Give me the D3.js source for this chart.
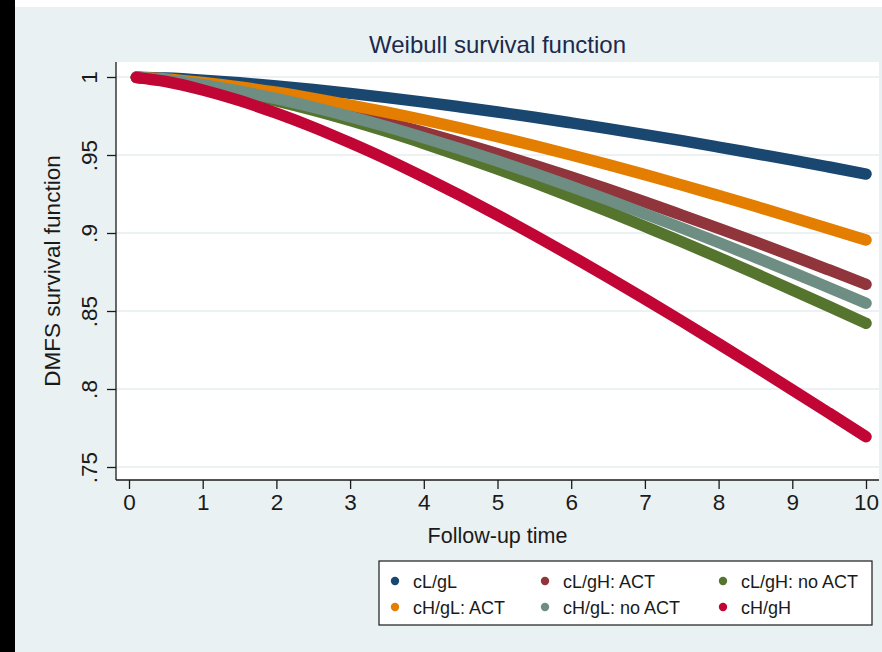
<!DOCTYPE html>
<html>
<head>
<meta charset="utf-8">
<script src="https://cdn.jsdelivr.net/npm/d3@7"></script>
<style>
  html, body { margin: 0; padding: 0; background: #ffffff; }
  svg { display: block; }
  text { font-family: "Liberation Sans", Arial, Helvetica, sans-serif; }
</style>
</head>
<body>
<svg id="chart" width="882" height="652"></svg>
<script>
// ---- data ----
const times = [0.1, 0.5, 1, 1.5, 2, 2.5, 3, 3.5, 4, 4.5, 5, 5.5, 6, 6.5, 7, 7.5, 8, 8.5, 9, 9.5, 10];
const seriesNames = ["cL/gL", "cL/gH: ACT", "cL/gH: no ACT", "cH/gL: ACT", "cH/gL: no ACT", "cH/gH"];
const cLgL       = [0.9999, 0.9993, 0.9980, 0.9963, 0.9943, 0.9920, 0.9895, 0.9868, 0.9839, 0.9808, 0.9776, 0.9742, 0.9706, 0.9669, 0.9631, 0.9592, 0.9551, 0.9509, 0.9467, 0.9423, 0.9378];
const cLgH_ACT   = [0.9999, 0.9984, 0.9955, 0.9918, 0.9873, 0.9823, 0.9768, 0.9709, 0.9646, 0.9579, 0.9508, 0.9435, 0.9359, 0.9280, 0.9199, 0.9115, 0.9030, 0.8943, 0.8854, 0.8763, 0.8671];
const cLgH_noACT = [0.9998, 0.9981, 0.9946, 0.9901, 0.9847, 0.9787, 0.9721, 0.9650, 0.9574, 0.9494, 0.9410, 0.9323, 0.9232, 0.9139, 0.9042, 0.8944, 0.8843, 0.8740, 0.8635, 0.8529, 0.8421];
const cHgL_ACT   = [0.9999, 0.9988, 0.9965, 0.9936, 0.9902, 0.9863, 0.9820, 0.9774, 0.9725, 0.9672, 0.9617, 0.9560, 0.9500, 0.9438, 0.9374, 0.9308, 0.9240, 0.9171, 0.9100, 0.9028, 0.8955];
const cHgL_noACT = [0.9998, 0.9982, 0.9951, 0.9909, 0.9861, 0.9806, 0.9746, 0.9681, 0.9611, 0.9538, 0.9461, 0.9381, 0.9298, 0.9212, 0.9123, 0.9032, 0.8939, 0.8844, 0.8748, 0.8649, 0.8550];
const cHgH       = [0.9997, 0.9971, 0.9917, 0.9849, 0.9768, 0.9678, 0.9578, 0.9472, 0.9358, 0.9239, 0.9115, 0.8986, 0.8853, 0.8717, 0.8577, 0.8435, 0.8290, 0.8143, 0.7995, 0.7845, 0.7694];
const seriesValues = [cLgL, cLgH_ACT, cLgH_noACT, cHgL_ACT, cHgL_noACT, cHgH];
const seriesColors = ["#1a476f", "#90353b", "#55752f", "#e37e00", "#6e8e84", "#c10534"];
const xTicks = [0, 1, 2, 3, 4, 5, 6, 7, 8, 9, 10];
const yTicks = [0.75, 0.8, 0.85, 0.9, 0.95, 1];
const yTickLabels = [".75", ".8", ".85", ".9", ".95", "1"];
const titleText = "Weibull survival function";
const xTitle = "Follow-up time";
const yTitle = "DMFS survival function";

// ---- layout ----
const svg = d3.select("#chart");
const W = 882, H = 652;
const plot = { left: 116, right: 879, top: 62, bottom: 480 };

// outer decorations
svg.append("rect").attr("x", 0).attr("y", 0).attr("width", W).attr("height", H).attr("fill", "#ffffff");
svg.append("rect").attr("x", 15).attr("y", 7).attr("width", W - 15).attr("height", H - 7).attr("fill", "#eaf1f3");
svg.append("rect").attr("x", 0).attr("y", 0).attr("width", 15).attr("height", H).attr("fill", "#000000");

// plot region
svg.append("rect")
  .attr("x", plot.left).attr("y", plot.top)
  .attr("width", plot.right - plot.left).attr("height", plot.bottom - plot.top)
  .attr("fill", "#ffffff");

const x = d3.scaleLinear().domain([0, 10]).range([129, 866]);
const y = d3.scaleLinear().domain([0.75, 1]).range([467, 77]);

// gridlines
svg.append("g").selectAll("line").data(yTicks).join("line")
  .attr("x1", plot.left).attr("x2", plot.right)
  .attr("y1", d => y(d)).attr("y2", d => y(d))
  .attr("stroke", "#e6eef1").attr("stroke-width", 1.6);

// series lines (drawn in Stata plot order)
const line = d3.line()
  .x((d, i) => x(times[i]))
  .y(d => y(d))
  .curve(d3.curveMonotoneX);

const gSeries = svg.append("g");
seriesValues.forEach((vals, k) => {
  gSeries.append("path")
    .attr("d", line(vals))
    .attr("fill", "none")
    .attr("stroke", seriesColors[k])
    .attr("stroke-width", 11.5)
    .attr("stroke-linecap", "round")
    .attr("stroke-linejoin", "round");
});

// y axis
const yAxis = d3.axisLeft(y).tickValues(yTicks).tickSize(9).tickSizeOuter(0)
  .tickFormat((d, i) => yTickLabels[i]);
const gy = svg.append("g").attr("transform", `translate(${plot.left},0)`).call(yAxis);
gy.select(".domain").attr("d", `M0,${plot.top}V${plot.bottom}`).attr("stroke", "#1a1a1a").attr("stroke-width", 1.3);
gy.selectAll(".tick line").attr("stroke", "#1a1a1a").attr("stroke-width", 1.3);
gy.selectAll(".tick text")
  .attr("x", 0).attr("y", 0).attr("dy", 0)
  .attr("transform", "translate(-19,0) rotate(-90)")
  .attr("text-anchor", "middle")
  .attr("font-size", 22.5)
  .attr("fill", "#1a1a1a");

// x axis
const xAxis = d3.axisBottom(x).tickValues(xTicks).tickSize(9).tickSizeOuter(0).tickFormat(d3.format("d"));
const gx = svg.append("g").attr("transform", `translate(0,${plot.bottom})`).call(xAxis);
gx.select(".domain").attr("d", `M${plot.left},0H${plot.right}`).attr("stroke", "#1a1a1a").attr("stroke-width", 1.3);
gx.selectAll(".tick line").attr("stroke", "#1a1a1a").attr("stroke-width", 1.3);
gx.selectAll(".tick text")
  .attr("y", 30).attr("dy", 0)
  .attr("font-size", 22.5)
  .attr("fill", "#1a1a1a");

// titles
svg.append("text")
  .attr("x", (plot.left + plot.right) / 2).attr("y", 53)
  .attr("text-anchor", "middle").attr("font-size", 24)
  .attr("fill", "#1c2a4c")
  .text(titleText);

svg.append("text")
  .attr("x", (plot.left + plot.right) / 2).attr("y", 543)
  .attr("text-anchor", "middle").attr("font-size", 21.5)
  .attr("fill", "#1a1a1a")
  .text(xTitle);

svg.append("text")
  .attr("transform", `translate(60,${(plot.top + plot.bottom) / 2}) rotate(-90)`)
  .attr("text-anchor", "middle").attr("font-size", 22.5)
  .attr("fill", "#1a1a1a")
  .text(yTitle);

// legend
const legend = svg.append("g");
legend.append("rect")
  .attr("x", 379).attr("y", 561).attr("width", 493).attr("height", 64)
  .attr("fill", "#ffffff").attr("stroke", "#1a1a1a").attr("stroke-width", 1.2);
const colX = [395, 545, 723];
const rowY = [581, 607];
seriesNames.forEach((name, k) => {
  const c = k % 3, r = Math.floor(k / 3);
  legend.append("circle")
    .attr("cx", colX[c]).attr("cy", rowY[r]).attr("r", 4.2)
    .attr("fill", seriesColors[k]);
  legend.append("text")
    .attr("x", colX[c] + 18).attr("y", rowY[r] + 6.5)
    .attr("font-size", 18).attr("fill", "#1a1a1a")
    .text(name);
});
</script>
</body>
</html>
